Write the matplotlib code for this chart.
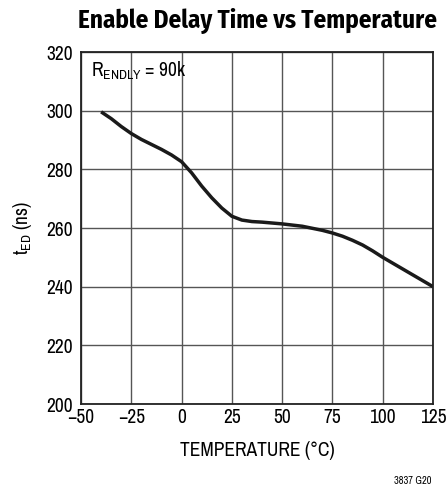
import matplotlib.pyplot as plt

plt.rcParams['font.family'] = ['Archivo Narrow', 'DejaVu Sans']
plt.rcParams['mathtext.fontset'] = 'custom'
plt.rcParams['mathtext.rm'] = 'Archivo Narrow'
plt.rcParams['mathtext.it'] = 'Archivo Narrow'

temp = [-40, -35, -30, -25, -20, -15, -10, -5, 0, 5, 10, 15, 20, 25, 30, 35, 40,
        50, 60, 70, 75, 80, 85, 90, 95, 100, 110, 125]
t_ed = [299.6, 297.3, 294.6, 292.2, 290.2, 288.5, 286.8, 284.9, 282.6, 278.8, 274.3,
        270.3, 266.8, 264.0, 262.7, 262.2, 262.0, 261.4, 260.6, 259.2, 258.3, 257.2,
        255.8, 254.2, 252.2, 250.0, 246.0, 240.0]

xticks = [-50, -25, 0, 25, 50, 75, 100, 125]
xlabels = ['\u221250', '\u221225', '0', '25', '50', '75', '100', '125']
yticks = [200, 220, 240, 260, 280, 300, 320]

fig = plt.figure(figsize=(4.47, 4.87), dpi=100)
ax = fig.add_axes([81 / 447, 1 - 404 / 487, 352 / 447, 352 / 487])

ax.plot(temp, t_ed, color='#1a1a1a', lw=2.5, solid_capstyle='butt', solid_joinstyle='round')
ax.set_xlim(-50, 125)
ax.set_ylim(200, 320)
ax.set_xticks(xticks)
ax.set_xticklabels(xlabels)
ax.set_yticks(yticks)
ax.grid(True, color='#555555', lw=1.0)
ax.tick_params(length=0, labelsize=14, pad=3)
ax.tick_params(axis='y', pad=6)
for s in ax.spines.values():
    s.set_linewidth(1.3)
    s.set_color('#222222')

ax.set_xlabel('TEMPERATURE (\u00b0C)', fontsize=14, labelpad=10)
ax.set_ylabel(r't$_{\mathrm{ED}}$ (ns)', fontsize=14, labelpad=9)
ax.text(-45, 313.7, r'R$_{\mathrm{ENDLY}}$ = 90k', fontsize=14, va='center', ha='left')

fig.text(258 / 447, 1 - 21 / 487, 'Enable Delay Time vs Temperature',
         fontsize=18, fontweight='bold', family=['Fira Sans Condensed', 'DejaVu Sans'],
         ha='center', va='center')
fig.text(432 / 447, 1 - 481 / 487, '3837 G20', fontsize=7.5, ha='right', va='center')

fig.savefig('out.png', dpi=100)
